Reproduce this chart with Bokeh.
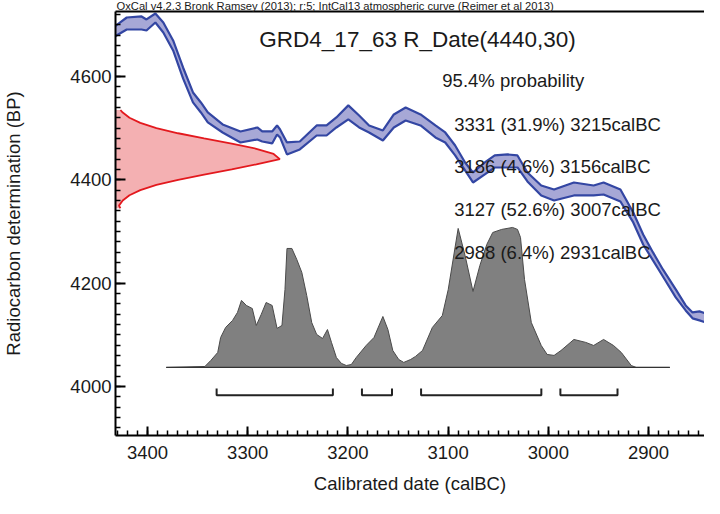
from bokeh.plotting import figure
from bokeh.models import Range1d, LinearAxis, SingleIntervalTicker, FixedTicker, Label, ColumnDataSource, Title
from bokeh.embed import file_html
from bokeh.resources import INLINE
from bokeh.core.properties import value

FONT = "Liberation Sans"

# ---------------- data ----------------
# IntCal13 calibration curve (1-sigma band), calendar years BC, radiocarbon BP
cal_bc = [3432.6, 3420.7, 3405.9, 3401.0, 3392.1, 3384.2, 3374.4, 3364.5, 3354.6, 3346.7,
          3339.8, 3325.0, 3307.2, 3290.4, 3285.5, 3275.6, 3270.7, 3267.7, 3260.8, 3248.0,
          3231.2, 3221.3, 3211.5, 3199.6, 3188.8, 3178.9, 3165.1, 3154.2, 3142.4, 3127.5,
          3112.7, 3102.9, 3093.0, 3083.1, 3075.2, 3063.4, 3053.5, 3040.7, 3030.8, 3020.9,
          3007.1, 2994.3, 2974.5, 2954.8, 2944.9, 2928.1, 2915.3, 2905.4, 2895.6, 2885.7,
          2872.9, 2863.0, 2856.1, 2849.2, 2836.4]
cal_upper = [4696.5, 4713.9, 4715.9, 4710.1, 4721.7, 4704.3, 4669.5, 4617.2, 4568.9, 4549.6,
             4530.2, 4507.0, 4493.5, 4501.2, 4493.5, 4493.5, 4505.1, 4497.3, 4472.2, 4474.1,
             4505.1, 4505.1, 4520.6, 4543.9, 4524.4, 4505.1, 4495.4, 4526.4, 4539.9, 4526.4,
             4505.1, 4491.5, 4466.4, 4433.5, 4414.2, 4433.5, 4447.1, 4449.0, 4447.1, 4414.2,
             4389.0, 4381.3, 4394.8, 4389.0, 4394.8, 4381.3, 4336.8, 4294.3, 4259.5, 4226.6,
             4188.0, 4157.0, 4143.5, 4145.4, 4137.6]
cal_lower = [4677.2, 4690.7, 4690.7, 4688.8, 4704.3, 4684.9, 4650.1, 4596.0, 4549.6, 4530.2,
             4510.9, 4491.5, 4472.2, 4478.0, 4474.1, 4470.3, 4487.7, 4481.9, 4449.0, 4458.7,
             4485.7, 4485.7, 4501.2, 4516.7, 4501.2, 4491.5, 4476.1, 4501.2, 4514.8, 4505.1,
             4481.9, 4472.2, 4447.1, 4418.1, 4394.8, 4410.3, 4423.8, 4423.8, 4423.8, 4396.8,
             4369.7, 4360.0, 4369.7, 4369.7, 4371.6, 4358.1, 4317.5, 4274.9, 4244.0, 4213.0,
             4172.5, 4147.3, 4132.0, 4128.1, 4120.2]

# R_Date(4440,30) likelihood, read along the BP axis (relative height)
rdate_bp = [4345, 4350, 4360, 4370, 4380, 4390, 4400, 4410, 4420, 4430, 4440,
            4450, 4460, 4470, 4480, 4490, 4500, 4510, 4520, 4530, 4535]
rdate_rel = [0.030, 0.021, 0.044, 0.085, 0.151, 0.249, 0.381, 0.539, 0.707, 0.857, 1.0,
             0.962, 0.857, 0.707, 0.539, 0.381, 0.249, 0.151, 0.085, 0.044, 0.030]

# calibrated probability distribution (relative)
post_bc = [3381.3, 3342.7, 3336.8, 3329.9, 3327.0, 3322.0, 3315.1, 3310.2, 3306.2, 3301.3,
           3295.4, 3291.4, 3286.5, 3281.6, 3275.6, 3270.7, 3265.8, 3262.8, 3260.8, 3255.9,
           3251.0, 3246.0, 3241.1, 3236.1, 3231.2, 3225.3, 3220.4, 3216.4, 3211.5, 3206.5,
           3201.6, 3196.6, 3191.7, 3181.8, 3174.0, 3165.1, 3160.1, 3155.2, 3149.3, 3144.3,
           3137.4, 3132.5, 3125.6, 3115.7, 3105.8, 3099.9, 3090.0, 3083.1, 3075.2, 3068.3,
           3061.4, 3055.5, 3046.6, 3035.7, 3030.8, 3027.8, 3023.8, 3017.0, 3007.1, 3001.2,
           2994.3, 2987.4, 2974.5, 2962.7, 2954.8, 2944.9, 2935.0, 2927.2, 2917.3, 2912.3,
           2878.8]
post_prob = [0.0, 0.007, 0.05, 0.107, 0.214, 0.286, 0.336, 0.393, 0.479, 0.443,
             0.421, 0.30, 0.379, 0.464, 0.443, 0.279, 0.30, 0.557, 0.85, 0.85,
             0.771, 0.679, 0.514, 0.321, 0.236, 0.207, 0.271, 0.179, 0.071, 0.029,
             0.014, 0.021, 0.071, 0.157, 0.214, 0.364, 0.271, 0.121, 0.057, 0.036,
             0.057, 0.079, 0.121, 0.286, 0.371, 0.557, 0.993, 0.80, 0.543, 0.729,
             0.879, 0.964, 0.986, 1.0, 0.986, 0.929, 0.629, 0.321, 0.157, 0.093,
             0.086, 0.121, 0.20, 0.179, 0.157, 0.20, 0.157, 0.107, 0.014, 0.0,
             0.0]

# 95.4% ranges
range_from = [3331, 3186, 3127, 2988]
range_to = [3215, 3156, 3007, 2931]
range_pct = [31.9, 4.6, 52.6, 6.4]

header_text = "OxCal v4.2.3 Bronk Ramsey (2013); r:5; IntCal13 atmospheric curve (Reimer et al 2013)"
title_text = "GRD4_17_63 R_Date(4440,30)"
prob_text = "95.4% probability"

# ---------------- layout constants ----------------
X_LEFT, X_RIGHT = 3431.9, 2844.2
Y_BOTTOM, Y_TOP = 3905.4, 4725.5
RDATE_AMP = 164.0        # years
POST_BASE = 4037.0       # BP
POST_SCALE = 270.8       # BP per unit
BR_TOP, BR_BOT = 3996.3, 3983.4

p = figure(width=704, height=498, output_backend="svg", toolbar_location=None,
           x_range=Range1d(X_LEFT, X_RIGHT), y_range=Range1d(Y_BOTTOM, Y_TOP),
           min_border_left=109, min_border_right=0, min_border_top=11, min_border_bottom=63,
           x_axis_label="Calibrated date (calBC)",
           y_axis_label="Radiocarbon determination (BP)")
p.outline_line_color = None
p.grid.visible = False
p.background_fill_color = "white"
p.border_fill_color = "white"

TXT = "#1a1a1a"
for ax in (p.xaxis[0], p.yaxis[0]):
    ax.axis_line_width = 2
    ax.axis_line_color = "black"
    ax.major_tick_line_width = 2
    ax.minor_tick_line_width = 1.5
    ax.major_tick_out = 0
    ax.minor_tick_out = 0
    ax.major_label_text_font = FONT
    ax.major_label_text_font_size = "18.5px"
    ax.major_label_text_color = TXT
    ax.axis_label_text_font = FONT
    ax.axis_label_text_font_size = "18.5px"
    ax.axis_label_text_font_style = "normal"
    ax.axis_label_text_color = TXT

p.xaxis[0].ticker = SingleIntervalTicker(interval=100, num_minor_ticks=10)
p.xaxis[0].major_tick_in = 9
p.xaxis[0].minor_tick_in = 5
p.xaxis[0].major_label_standoff = 10
p.xaxis[0].axis_label_standoff = 11

p.yaxis[0].ticker = SingleIntervalTicker(interval=200, num_minor_ticks=10)
p.yaxis[0].major_tick_in = 10
p.yaxis[0].minor_tick_in = 5
p.yaxis[0].major_label_standoff = 4
p.yaxis[0].axis_label_standoff = 43

top_axis = LinearAxis(ticker=FixedTicker(ticks=[]), axis_line_width=2, axis_line_color="black",
                      major_tick_out=0, major_tick_in=0, minor_tick_out=0, minor_tick_in=0,
                      major_label_text_font_size="0px", major_label_standoff=0)
p.add_layout(top_axis, "above")
p.add_layout(Title(text=header_text, align="left", offset=1, standoff=-5, vertical_align="top",
                   text_font=FONT, text_font_size="11.2px", text_font_style="normal",
                   text_color=TXT), "above")

# calibration curve band
p.varea(x=cal_bc, y1=cal_lower, y2=cal_upper, fill_color="#a7a8d6")
p.line(cal_bc, cal_upper, line_color="#3346a3", line_width=2.2)
p.line(cal_bc, cal_lower, line_color="#3346a3", line_width=2.2)

# radiocarbon date likelihood
rd_x = [X_LEFT - r * RDATE_AMP for r in rdate_rel]
p.harea(y=rdate_bp, x1=[X_LEFT] * len(rdate_bp), x2=rd_x, fill_color="#f4b0b2")
p.line(rd_x, rdate_bp, line_color="#e3191e", line_width=1.8)

# calibrated distribution
post_top = [POST_BASE + v * POST_SCALE for v in post_prob]
p.varea(x=post_bc, y1=[POST_BASE] * len(post_bc), y2=post_top, fill_color="#808080")
p.line(post_bc, post_top, line_color="#4a4a4a", line_width=1)
p.line([post_bc[0], post_bc[-1]], [POST_BASE, POST_BASE], line_color="#333333", line_width=1.3)

# range brackets
p.multi_line(xs=[[a, a, b, b] for a, b in zip(range_from, range_to)],
             ys=[[BR_TOP, BR_BOT, BR_BOT, BR_TOP] for _ in range_from],
             line_color="#222222", line_width=2)

# texts
p.add_layout(Label(x=3130.5, y=4671, text=title_text, text_font=FONT,
                   text_font_size="22.5px", text_color=TXT, text_align="center",
                   text_baseline="middle"))
p.add_layout(Label(x=3105.8, y=4592, text=prob_text, text_font=FONT,
                   text_font_size="18.5px", text_color=TXT, text_baseline="middle"))

LINE0_Y, LINE_STEP = 4507.5, 82.6
range_texts = [f"{a} ({pc}%) {b}calBC" for a, pc, b in zip(range_from, range_pct, range_to)]
src = ColumnDataSource(dict(x=[3094.0] * len(range_texts),
                            y=[LINE0_Y - i * LINE_STEP for i in range(len(range_texts))],
                            t=range_texts))
p.text(x="x", y="y", text="t", source=src, text_font=value(FONT), text_font_size="18.5px",
       text_color=TXT, text_baseline="middle", text_align="left")

open("out.html", "w").write(file_html(p, INLINE))
